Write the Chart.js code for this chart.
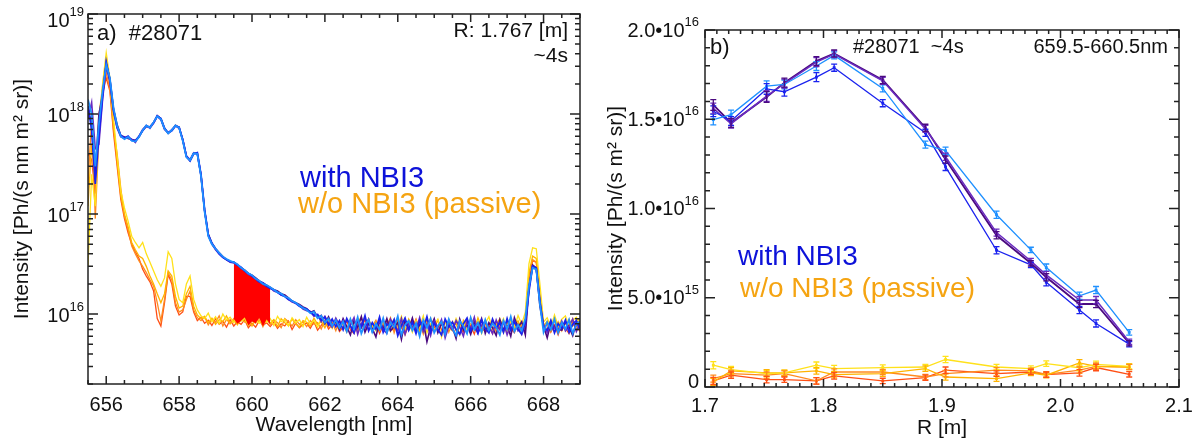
<!doctype html>
<html lang="en">
<head>
<meta charset="utf-8">
<title>H-alpha spectra and radial profile, #28071</title>
<style>
  body { margin: 0; background: #fff; }
  #wrap { position: relative; width: 1195px; height: 441px; }
  canvas { position: absolute; top: 0; }
</style>
</head>
<body>
<div id="wrap">
  <canvas id="specChart" width="600" height="441" style="left:0"></canvas>
  <canvas id="profChart" width="595" height="441" style="left:600px"></canvas>
</div>

<script src="https://cdn.jsdelivr.net/npm/chart.js"></script>
<script>
// ---- panel a) spectra, values in units of 1e15 Ph/(s nm m2 sr) ----
const wl = [
  655.5,655.6,655.7,655.8,655.9,656.0,656.1,656.2,656.3,656.4,
  656.5,656.6,656.7,656.8,656.9,657.0,657.1,657.2,657.3,657.4,
  657.5,657.6,657.7,657.8,657.9,658.0,658.1,658.2,658.3,658.4,
  658.5,658.6,658.7,658.8,658.9,659.0,659.1,659.2,659.3,659.4,
  659.5,659.6,659.7,659.8,659.9,660.0,660.1,660.2,660.3,660.4,
  660.5,660.6,660.7,660.8,660.9,661.0,661.1,661.2,661.3,661.4,
  661.5,661.6,661.7,661.8,661.9,662.0,662.1,662.2,662.3,662.4,
  662.5,662.6,662.7,662.8,662.9,663.0,663.1,663.2,663.3,663.4,
  663.5,663.6,663.7,663.8,663.9,664.0,664.1,664.2,664.3,664.4,
  664.5,664.6,664.7,664.8,664.9,665.0,665.1,665.2,665.3,665.4,
  665.5,665.6,665.7,665.8,665.9,666.0,666.1,666.2,666.3,666.4,
  666.5,666.6,666.7,666.8,666.9,667.0,667.1,667.2,667.3,667.4,
  667.5,667.6,667.7,667.8,667.9,668.0,668.1,668.2,668.3,668.4,
  668.5,668.6,668.7,668.8,668.9,669.0
];

// with NBI3
const nbiLight = [
  1400,1000,300,800,1700,3100,2300,1150,760,600,
  560,590,540,530,590,690,770,730,830,950,
  890,710,640,690,770,730,540,370,345,405,
  400,240,105,60,50,45,41,37.5,35.5,34,
  33,31.5,29,27.5,25.5,24.5,22.5,21.5,20,19.5,
  18.5,17.5,16.5,16,15,14.5,13.5,13,12.2,11.5,
  11,10.2,10.6,9.1,9.6,8.2,9.0,7.6,8.7,7.3,
  8.4,6.7,8.9,7.1,9.3,6.4,7.9,8.8,6.6,8.0,
  7.0,9.1,6.5,8.3,7.4,9.5,6.2,7.8,8.6,6.9,
  8.1,6.0,8.7,7.3,9.0,6.5,7.7,8.4,6.3,8.9,
  7.2,6.1,8.5,7.6,6.4,9.2,7.0,8.2,6.6,8.8,
  6.9,8.0,7.4,6.2,8.6,7.1,9.4,6.7,7.8,6.8,
  9.0,19,29,28,12.5,6.6,8.3,7.0,8.9,6.5,
  8.2,7.1,8.8,6.4,7.9,8.5
];
const nbiBlue = [
  1200,700,200,600,1500,3300,2200,1100,740,610,
  575,600,545,540,600,680,760,740,820,960,
  900,720,650,680,760,740,550,380,340,400,
  410,250,110,62,51,45,40,37,35,33.5,
  33,31,29.5,27,25.5,24,22.5,21,20.5,19,
  18,17.5,16.5,15.5,15,14,13.5,12.8,12,11.5,
  11.2,10.5,9.8,9.9,8.7,9.3,7.8,8.9,7.5,8.6,
  7.0,9.0,7.6,6.5,8.7,7.4,9.6,6.8,8.2,7.1,
  9.3,6.6,8.0,7.3,8.8,6.1,7.7,9.1,6.9,8.3,
  6.4,8.6,7.2,9.4,6.6,8.1,7.0,6.2,8.9,7.5,
  8.3,7.0,6.3,8.0,9.1,6.8,7.7,6.4,8.7,7.2,
  6.5,8.9,7.3,8.2,6.6,9.0,6.9,8.4,7.1,6.3,
  8.1,17,30,29,13.5,7.3,6.9,8.6,6.5,8.0,
  7.2,8.7,6.6,7.9,8.6,7.0
];
const nbiViolet = [
  900,1300,450,500,1400,3000,2100,1050,720,590,
  570,580,560,520,600,700,770,720,810,940,
  880,700,650,700,760,720,560,380,350,410,
  395,245,108,61,50,44,40,37,35,33,
  32.5,31,29,27,25,24,22.5,21,20,19,
  18.5,17,16.5,15.5,15.2,14,13.2,12.8,12.2,11.2,
  10.8,10.6,9.5,9.8,8.4,9.5,8.1,7.4,9.1,7.7,
  8.6,6.9,7.8,9.2,6.3,8.1,7.2,8.9,6.7,7.6,
  8.4,7.0,6.4,8.9,7.6,6.8,9.0,6.3,8.1,7.4,
  7.0,9.2,6.7,7.9,6.1,8.5,7.3,8.8,5.8,7.6,
  6.9,8.6,7.4,6.0,8.4,7.1,9.3,6.5,7.7,8.1,
  7.5,6.4,8.7,7.0,8.3,6.2,7.9,8.6,6.8,7.4,
  7.7,18,30,28,13,7.8,6.5,8.4,7.3,6.9,
  8.5,6.8,7.6,8.9,6.7,8.0
];
const nbiDark = [
  1100,800,250,1000,1550,3200,2250,1120,780,610,
  590,570,555,545,590,690,750,740,820,960,
  900,720,640,690,770,735,550,375,340,405,
  405,245,108,63,51,45,41,37.5,35,33.5,
  33,31,29,27.5,25.5,24.5,23,21.5,20.5,19.5,
  18.5,17.5,17,16,15.5,14.5,13.5,13,12.5,11.8,
  11.3,10.4,10.8,9.2,9.7,8.0,9.4,7.7,8.5,7.0,
  9.0,7.5,6.2,8.6,7.3,9.4,6.6,8.0,7.2,5.9,
  8.5,7.1,9.0,6.8,7.5,8.2,5.6,8.7,7.0,9.1,
  6.7,7.8,8.4,5.3,7.4,9.0,6.5,8.0,7.1,8.6,
  7.4,5.7,8.9,6.9,7.8,6.3,8.4,7.2,9.0,6.4,
  8.2,7.3,6.1,8.8,7.0,7.6,6.0,9.2,7.3,8.4,
  6.2,18.5,31,29,12,7.6,5.8,8.2,7.5,7.0,
  6.9,8.4,7.4,6.1,8.3,7.2
];

// w/o NBI3 (passive)
const pasYellow = [
  30,250,120,700,2000,4100,2300,900,380,170,
  115,85,60,52,46,52,40,33,27,22,
  19,23,42,36,20,14,13,20,24,14,
  11,9.6,9.0,10.2,8.4,9.4,8.0,10.0,8.7,9.3,
  8.2,9.8,8.5,9.1,7.8,9.6,8.6,8.1,9.9,8.3,
  9.0,7.7,9.5,8.4,8.9,7.6,9.2,8.2,8.8,7.5,
  9.3,8.0,8.6,7.4,9.1,7.9,8.5,7.2,9.0,7.8,
  8.4,6.9,8.9,7.5,8.2,9.4,7.0,8.6,7.7,6.8,
  9.1,7.3,8.0,6.7,8.8,7.6,9.5,7.1,8.3,6.6,
  8.7,7.4,9.6,6.5,8.0,7.8,8.9,5.9,8.4,7.2,
  6.8,9.0,7.5,8.3,6.9,9.2,7.7,8.6,6.4,8.1,
  9.4,7.0,8.2,7.6,9.0,6.6,8.5,7.3,9.7,7.9,
  10.5,32,46,45,20,8.3,9.2,7.4,9.8,7.6,
  8.9,9.6,7.5,8.7,9.3,8.0
];
const pasLight = [
  120,500,200,950,1900,3600,2000,800,330,150,
  100,75,52,44,38,36,30,24,20,16,
  13,16,27,24,15,11.5,12,16,19,12,
  9.8,9.0,9.5,8.2,9.1,7.9,8.8,8.4,9.6,8.0,
  8.7,7.8,9.2,8.3,8.9,7.6,9.0,8.5,7.9,9.3,
  8.1,8.8,7.5,9.0,8.2,7.7,8.9,8.0,7.4,8.6,
  8.3,7.6,9.1,7.9,8.4,7.3,8.8,7.6,8.2,7.0,
  8.5,7.3,7.9,8.7,6.8,8.1,7.6,9.0,6.9,8.3,
  7.4,8.6,6.8,7.9,8.8,7.0,8.2,6.6,8.9,7.5,
  8.0,6.7,8.5,7.7,9.1,6.9,7.6,8.4,6.5,8.8,
  7.3,8.1,6.2,8.7,7.5,8.0,6.9,9.2,7.4,7.9,
  6.7,8.4,7.8,9.0,6.5,8.3,7.1,7.8,8.6,7.0,
  9.2,26,38,36,16,7.6,8.5,6.8,8.9,7.4,
  8.3,6.9,8.8,7.6,8.1,9.0
];
const pasOrange = [
  200,900,90,600,1700,2600,1800,700,400,180,
  95,70,48,40,34,30,26,22,19,13,
  8.5,14,26,22,13,10.5,11,14,17,11,
  9.2,8.6,9.4,7.8,8.9,8.3,9.6,7.6,8.8,8.1,
  9.0,8.0,8.6,9.3,7.7,8.5,8.1,9.2,7.5,8.9,
  7.9,8.7,8.2,7.3,9.0,8.4,7.6,8.8,7.9,8.4,
  7.5,8.6,7.9,8.2,7.1,8.7,7.5,8.3,6.8,8.5,
  7.8,6.6,8.6,7.2,8.9,7.4,6.9,8.2,7.6,8.7,
  6.9,8.1,7.7,9.2,6.5,8.4,7.3,8.0,7.0,8.6,
  7.6,8.3,6.3,8.8,7.2,8.5,6.8,7.9,8.6,6.6,
  8.4,6.8,7.9,7.2,8.9,6.5,8.3,7.0,7.7,8.5,
  7.2,8.8,6.6,7.7,8.4,7.1,9.0,6.9,8.2,6.3,
  8.4,24,35,33,15,8.0,6.9,8.7,7.2,8.4,
  6.8,8.1,7.5,9.0,7.0,8.2
];
const pasRed = [
  400,350,160,800,1600,2300,1700,650,300,140,
  90,65,50,42,36,28,24,21,17,9,
  7.6,13,25,20,12,9.8,10.5,15,15,10.5,
  8.6,9.3,8.1,8.7,7.7,9.0,7.9,8.5,7.4,8.8,
  7.6,8.4,7.9,8.8,7.3,8.1,7.4,8.6,7.7,8.2,
  7.5,8.3,7.2,8.0,7.6,8.5,7.0,8.1,7.3,7.9,
  8.1,7.2,8.4,6.9,7.7,8.6,7.1,7.8,8.3,6.7,
  7.4,8.5,7.0,6.4,8.1,7.3,8.8,6.9,7.5,8.2,
  6.4,7.7,8.5,7.1,6.9,8.8,7.4,6.2,8.0,7.3,
  8.9,6.9,7.5,8.1,6.6,7.3,8.7,7.0,6.4,8.2,
  7.0,8.7,7.3,6.6,8.2,7.6,6.3,8.4,7.1,6.8,
  8.0,6.4,8.3,7.4,6.9,8.6,7.2,6.5,8.1,7.6,
  7.0,22,34,33,14,7.1,8.0,6.6,7.8,6.2,
  7.9,7.2,6.4,8.4,7.6,6.7
];

// 659.5-660.5 nm band (indices into wl)
const bandFrom = 40, bandTo = 50;

const specXTicks = [656, 658, 660, 662, 664, 666, 668];
const specYDecades = [16, 17, 18, 19];

// ---- panel b) radial profile, values in units of 1e15 ----
const rPos = [1.707, 1.722, 1.752, 1.767, 1.794, 1.809, 1.850, 1.886, 1.903, 1.946, 1.975, 1.988, 2.016, 2.030, 2.058];

const profLight  = [14.98, 15.26, 16.85, 16.95, 17.98, 18.58, 16.73, 13.58, 13.24, 9.65, 7.68, 6.69, 5.11, 5.43, 3.06];
const profBlue   = [15.45, 14.90, 16.70, 16.54, 17.36, 17.89, 15.90, 14.24, 12.33, 7.66, 6.84, 5.87, 4.31, 3.56, 2.40];
const profViolet = [15.60, 14.75, 16.30, 17.00, 18.20, 18.65, 17.15, 14.46, 12.90, 8.65, 7.06, 6.28, 4.87, 4.87, 2.53];
const profDark   = [15.80, 14.80, 16.25, 17.05, 18.26, 18.69, 17.20, 14.52, 12.74, 8.50, 6.93, 6.15, 4.65, 4.65, 2.45];
const errNbi     = [0.30, 0.25, 0.30, 0.25, 0.25, 0.20, 0.20, 0.20, 0.20, 0.20, 0.15, 0.20, 0.20, 0.20, 0.15];

const profYellow = [1.22, 0.97, 0.75, 0.79, 1.22, 1.03, 1.09, 1.12, 1.54, 1.12, 1.03, 1.31, 1.08, 1.27, 1.16];
const profLightO = [0.28, 0.90, 0.79, 0.79, 0.90, 0.69, 0.75, 1.03, 0.56, 0.47, 0.79, 0.66, 1.35, 1.16, 1.12];
const profOrange = [0.47, 0.75, 0.66, 0.75, 0.34, 0.84, 0.84, 0.56, 0.75, 0.94, 0.90, 0.71, 0.94, 1.16, 1.12];
const profRed    = [0.34, 0.66, 0.41, 0.41, 0.34, 0.62, 0.34, 0.52, 0.94, 0.75, 0.84, 0.69, 0.79, 1.09, 0.71];
const errPas     = [0.20, 0.18, 0.18, 0.15, 0.18, 0.18, 0.15, 0.15, 0.18, 0.15, 0.15, 0.15, 0.18, 0.18, 0.15];

const profXTicks = ['1.7', '1.8', '1.9', '2.0', '2.1'];
const profYTickVals = [0, 5e15, 1e16, 1.5e16, 2e16];
const profYTickBase = ['0', '5.0\u202210', '1.0\u202210', '1.5\u202210', '2.0\u202210'];
const profYTickExp = ['', '15', '16', '16', '16'];
</script>

<script>
const FONT = '"Liberation Sans", Arial, Helvetica, sans-serif';
const BLUE_TXT = '#0d12d9';
const ORANGE_TXT = '#f5a412';
const colors = {
  light: '#1e90ff', blue: '#1a22ee', violet: '#6a2bc0', dark: '#4b0a80',
  yellow: '#ffe11a', lightO: '#ffb300', orange: '#ff8a1f', red: '#ff4f14'
};

function txt(ctx, s, x, y, size, color, align) {
  ctx.font = size + 'px ' + FONT;
  ctx.fillStyle = color || '#111';
  ctx.textAlign = align || 'left';
  ctx.textBaseline = 'alphabetic';
  ctx.fillText(s, x, y);
}

// base text + superscript, right aligned at xRight, base centred on yMid
function supLabel(ctx, base, sup, xRight, yMid, size) {
  const supSize = Math.round(size * 0.65);
  ctx.font = supSize + 'px ' + FONT;
  const ws = sup ? ctx.measureText(sup).width : 0;
  ctx.font = size + 'px ' + FONT;
  const wb = ctx.measureText(base).width;
  ctx.fillStyle = '#111';
  ctx.textAlign = 'left';
  ctx.textBaseline = 'middle';
  ctx.fillText(base, xRight - ws - wb, yMid);
  if (sup) {
    ctx.font = supSize + 'px ' + FONT;
    ctx.fillText(sup, xRight - ws, yMid - size * 0.42);
  }
}

function vText(ctx, s, x, y, size) {
  ctx.save();
  ctx.translate(x, y);
  ctx.rotate(-Math.PI / 2);
  ctx.font = size + 'px ' + FONT;
  ctx.fillStyle = '#111';
  ctx.textAlign = 'center';
  ctx.textBaseline = 'middle';
  ctx.fillText(s, 0, 0);
  ctx.restore();
}

function tickLine(ctx, x1, y1, x2, y2) {
  ctx.moveTo(x1, y1);
  ctx.lineTo(x2, y2);
}

const specFrame = {
  id: 'specFrame',
  afterDraw(chart) {
    const { ctx, chartArea: a, scales: { x, y } } = chart;
    ctx.save();
    ctx.strokeStyle = '#222';
    ctx.lineWidth = 1.5;
    ctx.strokeRect(a.left, a.top, a.right - a.left, a.bottom - a.top);
    ctx.beginPath();
    // x ticks every 0.5 nm, major every 2 nm
    for (let v = 655.5; v <= 669.001; v += 0.5) {
      const px = x.getPixelForValue(v);
      const len = specXTicks.includes(Math.round(v * 10) / 10) ? 8 : 4;
      tickLine(ctx, px, a.bottom, px, a.bottom - len);
      tickLine(ctx, px, a.top, px, a.top + len);
    }
    // log y ticks
    for (let d = 15; d <= 18; d++) {
      for (let m = 1; m <= 9; m++) {
        const v = m * Math.pow(10, d);
        if (v < y.min || v > y.max) continue;
        const py = y.getPixelForValue(v);
        const len = m === 1 ? 10 : 5;
        tickLine(ctx, a.left, py, a.left + len, py);
        tickLine(ctx, a.right, py, a.right - len, py);
      }
    }
    const pTop = y.getPixelForValue(1e19);
    tickLine(ctx, a.left, pTop, a.left + 10, pTop);
    tickLine(ctx, a.right, pTop, a.right - 10, pTop);
    ctx.stroke();

    // tick labels
    specXTicks.forEach(v => {
      ctx.font = '20px ' + FONT;
      ctx.fillStyle = '#111';
      ctx.textAlign = 'center';
      ctx.textBaseline = 'middle';
      ctx.fillText(String(v), x.getPixelForValue(v), 405);
    });
    specYDecades.forEach(d => {
      const py = y.getPixelForValue(Math.pow(10, d));
      supLabel(ctx, '10', String(d), 84, py + (d === 19 ? 7 : 2), 20);
    });

    // titles and annotations
    txt(ctx, 'Wavelength [nm]', (a.left + a.right) / 2, 431, 21, '#111', 'center');
    vText(ctx, 'Intensity [Ph/(s nm m\u00b2 sr)]', 22, (a.top + a.bottom) / 2, 21);
    txt(ctx, 'a)  #28071', 97, 40, 22);
    txt(ctx, 'R: 1.767 [m]', 568, 37, 21, '#111', 'right');
    txt(ctx, '~4s', 568, 62, 21, '#111', 'right');
    txt(ctx, 'with NBI3', 300, 187, 29, BLUE_TXT);
    txt(ctx, 'w/o NBI3 (passive)', 298, 213, 29, ORANGE_TXT);
    ctx.restore();
  }
};

const profFrame = {
  id: 'profFrame',
  afterDraw(chart) {
    const { ctx, chartArea: a, scales: { x, y } } = chart;
    ctx.save();
    ctx.strokeStyle = '#222';
    ctx.lineWidth = 1.5;
    ctx.strokeRect(a.left, a.top, a.right - a.left, a.bottom - a.top);
    ctx.beginPath();
    for (let i = 0; i <= 40; i++) {
      const px = x.getPixelForValue(1.7 + i * 0.01);
      const len = i % 10 === 0 ? 8 : 4;
      tickLine(ctx, px, a.bottom, px, a.bottom - len);
      tickLine(ctx, px, a.top, px, a.top + len);
    }
    for (let i = 0; i <= 20; i++) {
      const py = y.getPixelForValue(i * 1e15);
      const len = i % 5 === 0 ? 10 : 5;
      tickLine(ctx, a.left, py, a.left + len, py);
      tickLine(ctx, a.right, py, a.right - len, py);
    }
    ctx.stroke();

    profXTicks.forEach(t => {
      ctx.font = '20px ' + FONT;
      ctx.fillStyle = '#111';
      ctx.textAlign = 'center';
      ctx.textBaseline = 'middle';
      ctx.fillText(t, x.getPixelForValue(parseFloat(t)), 406);
    });
    profYTickVals.forEach((v, i) => {
      const py = y.getPixelForValue(v);
      supLabel(ctx, profYTickBase[i], profYTickExp[i], 99, v === 0 ? py - 5 : py + 1, 20);
    });

    txt(ctx, 'R [m]', (a.left + a.right) / 2, 434, 21, '#111', 'center');
    vText(ctx, 'Intensity [Ph/(s m\u00b2 sr)]', 16, (a.top + a.bottom) / 2, 21);
    txt(ctx, 'b)', 110, 54, 22);
    txt(ctx, '#28071  ~4s', 253, 53, 20);
    txt(ctx, '659.5-660.5nm', 568, 53, 20, '#111', 'right');
    txt(ctx, 'with NBI3', 138, 265, 28, BLUE_TXT);
    txt(ctx, 'w/o NBI3 (passive)', 140, 297, 28, ORANGE_TXT);
    ctx.restore();
  }
};

// vertical error bars for datasets carrying an errorBars array
const errorBarPlugin = {
  id: 'errorBars',
  afterDatasetsDraw(chart) {
    const { ctx, scales: { x, y } } = chart;
    ctx.save();
    chart.data.datasets.forEach(ds => {
      if (!ds.errorBars) return;
      ctx.strokeStyle = ds.borderColor;
      ctx.lineWidth = 1.3;
      ctx.beginPath();
      ds.data.forEach((p, i) => {
        const e = ds.errorBars[i] * 1e15;
        const px = x.getPixelForValue(p.x);
        const y1 = y.getPixelForValue(p.y - e);
        const y2 = y.getPixelForValue(p.y + e);
        tickLine(ctx, px, y1, px, y2);
        tickLine(ctx, px - 3, y1, px + 3, y1);
        tickLine(ctx, px - 3, y2, px + 3, y2);
      });
      ctx.stroke();
    });
    ctx.restore();
  }
};

// ---- panel a) ----
const specPts = (arr, from, to) => arr.slice(from, to).map((v, i) => ({ x: wl[from + i], y: v * 1e15 }));
const specLine = (arr, color, width) => ({
  data: specPts(arr, 0, arr.length),
  borderColor: color,
  borderWidth: width,
  pointRadius: 0,
  fill: false
});

new Chart(document.getElementById('specChart'), {
  type: 'line',
  data: {
    datasets: [
      specLine(nbiLight, colors.light, 1.8),
      specLine(nbiBlue, colors.blue, 1.8),
      specLine(nbiViolet, colors.violet, 1.6),
      specLine(nbiDark, colors.dark, 1.6),
      {
        data: specPts(nbiLight, bandFrom, bandTo + 1),
        borderWidth: 0,
        borderColor: 'rgba(0,0,0,0)',
        backgroundColor: '#ff0000',
        pointRadius: 0,
        fill: '+1'
      },
      {
        data: specPts(pasOrange, bandFrom, bandTo + 1),
        borderWidth: 0,
        borderColor: 'rgba(0,0,0,0)',
        pointRadius: 0,
        fill: false
      },
      specLine(pasYellow, colors.yellow, 1.3),
      specLine(pasLight, colors.lightO, 1.3),
      specLine(pasOrange, colors.orange, 1.3),
      specLine(pasRed, colors.red, 1.3)
    ]
  },
  options: {
    responsive: false,
    animation: false,
    layout: { padding: { left: 88, right: 20, top: 14, bottom: 57 } },
    plugins: { legend: { display: false }, tooltip: { enabled: false } },
    elements: { line: { tension: 0 } },
    scales: {
      x: { type: 'linear', min: 655.5, max: 669, display: false },
      y: { type: 'logarithmic', min: 2e15, max: 1e19, display: false }
    }
  },
  plugins: [specFrame]
});

// ---- panel b) ----
const profLine = (arr, err, color, width) => ({
  data: arr.map((v, i) => ({ x: rPos[i], y: v * 1e15 })),
  errorBars: err,
  borderColor: color,
  backgroundColor: color,
  borderWidth: width,
  pointStyle: 'rect',
  pointRadius: 2,
  pointBorderWidth: 0,
  fill: false
});

new Chart(document.getElementById('profChart'), {
  type: 'line',
  data: {
    datasets: [
      profLine(profLight, errNbi, colors.light, 1.3),
      profLine(profBlue, errNbi, colors.blue, 1.3),
      profLine(profViolet, errNbi, colors.violet, 1.5),
      profLine(profDark, errNbi, colors.dark, 1.8),
      profLine(profYellow, errPas, colors.yellow, 1.3),
      profLine(profLightO, errPas, colors.lightO, 1.3),
      profLine(profOrange, errPas, colors.orange, 1.3),
      profLine(profRed, errPas, colors.red, 1.3)
    ]
  },
  options: {
    responsive: false,
    animation: false,
    layout: { padding: { left: 105, right: 16, top: 30, bottom: 54 } },
    plugins: { legend: { display: false }, tooltip: { enabled: false } },
    elements: { line: { tension: 0 } },
    scales: {
      x: { type: 'linear', min: 1.7, max: 2.1, display: false },
      y: { type: 'linear', min: 0, max: 2e16, display: false }
    }
  },
  plugins: [errorBarPlugin, profFrame]
});
</script>
</body>
</html>
